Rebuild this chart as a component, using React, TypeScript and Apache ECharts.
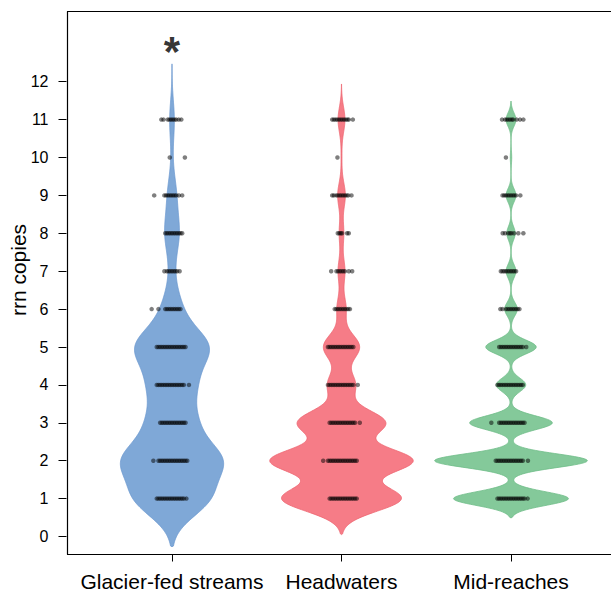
import React, { useEffect, useRef } from "react";
import * as echarts from "echarts";

// ---------- data ----------
const categories = ["Glacier-fed streams", "Headwaters", "Mid-reaches"];
const categoryPositions = [1, 2, 3];
const yTickValues = [0, 1, 2, 3, 4, 5, 6, 7, 8, 9, 10, 11, 12];
const levels = [1, 2, 3, 4, 5, 6, 7, 8, 9, 10, 11]; // rrn copy numbers

// estimated number of genomes at each copy number
const glacierCounts = [132, 175, 79, 77, 133, 32, 8, 26, 16, 2, 9];
const headwatersCounts = [155, 185, 114, 36, 47, 12, 9, 6, 10, 1, 9];
const midReachesCounts = [82, 109, 59, 21, 36, 9, 7, 6, 7, 1, 7];

// kernel bandwidths of each violin (in rrn copies)
const bandwidths = [0.5, 0.33, 0.18];
// lower and upper ends of each violin (in rrn copies)
const violinLow = [-0.27, 0.05, 0.49];
const violinHigh = [12.47, 11.94, 11.49];

// significance marks above each group
const significance = ["*", "", ""];

// horizontal positions of the plotted dots, hundredths of a category, one list per copy number
const glacierJitter = [
  [-9, -8, -7, -6, -5, -4, -3, -2, -1, 0, 1, 2, 3, 4, 5, 6, 7, 8.5],
  [-11, -8, -7, -6, -5, -4, -3, -2, -1, 0, 1, 2, 3, 4, 5, 6, 7, 8, 9],
  [-7, -6, -5, -4, -3, -2, -1, 0, 1, 2, 3, 4, 5, 6, 7, 8],
  [-9, -8, -7, -6, -5, -4, -3, -2, -1, 0, 1, 2, 3, 4, 5, 6, 7, 10],
  [-9, -8, -7, -6, -5, -4, -3, -2, -1, 0, 1, 2, 3, 4, 5, 6, 7, 8],
  [-12, -8, -4, -3, -2, -1, 0, 1, 2, 3, 4, 5],
  [-4.5, -3, -2, -1, 0, 1, 2, 3, 4.5],
  [-4, -3, -2, -1, 0, 1, 2, 3, 4, 5, 6],
  [-10.5, -4.5, -3.5, -2.5, -1.5, -0.5, 0.5, 1.5, 2.5, 4, 6],
  [-1.3, 7.6],
  [-6.3, -5, -2.5, -1.5, -0.5, 0.5, 1.5, 2.5, 4, 5.5],
];
const headwatersJitter = [
  [-7, -6, -5, -4, -3, -2, -1, 0, 1, 2, 3, 4, 5, 6, 7, 8, 9],
  [-10.8, -8, -7, -6, -5, -4, -3, -2, -1, 0, 1, 2, 3, 4, 5, 6, 7, 8, 9],
  [-7, -6, -5, -4, -3, -2, -1, 0, 1, 2, 3, 4, 5, 6, 7, 8, 10.8],
  [-8, -7, -6, -5, -4, -3, -2, -1, 0, 1, 2, 3, 4, 5, 6, 7, 9.6],
  [-8, -7, -6, -5, -4, -3, -2, -1, 0, 1, 2, 3, 4, 5, 6, 7],
  [-4, -3, -2, -1, 0, 1, 2, 3, 4, 5],
  [-6.1, -3, -2, -1, 0, 1, 2, 4.3, 6.3],
  [-2.2, -1.2, -0.4, 0.4, 3.3, 4.3],
  [-5.5, -4.5, -3, -2, -1, 0, 1, 2, 3, 4, 5.9],
  [-2.4],
  [-5.5, -4.5, -3.5, -2.5, -1.5, -0.5, 0.5, 1.5, 2.5, 3.5, 4.3, 6.7],
];
const midReachesJitter = [
  [-8, -7, -6, -5, -4, -3, -2, -1, 0, 1, 2, 3, 4, 5, 6, 7, 8, 9.8],
  [-9, -8, -7, -6, -5, -4, -3, -2, -1, 0, 1, 2, 3, 4, 5, 6, 7, 10],
  [-11.6, -7, -6, -5, -4, -3, -2, -1, 0, 1, 2, 3, 4, 5, 6, 7, 8],
  [-8, -7, -6, -5, -4, -3, -2, -1, 0, 1, 2, 3, 4, 5, 6, 7],
  [-7, -6, -5, -4, -3, -2, -1, 0, 1, 2, 3, 4, 5, 6, 7, 9],
  [-6.3, -5, -3, -2, -1, 0, 1, 2, 3, 4, 5],
  [-6, -5, -4, -3, -2, -1, 0, 1, 2, 3],
  [-4.9, -3.5, -1.6, -0.6, 0.3, 1.8, 4.3, 7.3],
  [-5, -4, -3, -2, -1, 0, 1, 2, 3, 5.5],
  [-3],
  [-5.3, -3.5, -2.5, -1.5, -0.5, 0.5, 1.3, 3.3, 5.3, 7.3],
];

// ---------- styling ----------
const FILLS = ["#7FA8D7", "#F67C87", "#84C99A"];
const EDGES = ["#6B98CF", "#EE6470", "#6FBD88"];
const FONT = "Liberation Sans, Arial, Helvetica, sans-serif";
const WIDTH_K = 7.44e-4; // common violin width scale (count / bandwidth -> category units)

const groupCounts = [glacierCounts, headwatersCounts, midReachesCounts];
const groupJitter = [glacierJitter, headwatersJitter, midReachesJitter];

function halfWidth(counts: number[], h: number, y: number): number {
  let s = 0;
  for (let k = 0; k < levels.length; k++) {
    const d = y - levels[k];
    s += counts[k] * Math.exp(-(d * d) / (2 * h * h));
  }
  return (WIDTH_K * s) / h;
}

function buildOption(): any {
  const series: any[] = [];

  categories.forEach((_, i) => {
    const cx = categoryPositions[i];
    const counts = groupCounts[i];
    const h = bandwidths[i];
    const lo = violinLow[i];
    const hi = violinHigh[i];
    const ys: number[] = [];
    for (let y = lo + 0.02; y < hi - 0.01; y += 0.02) ys.push(y);

    series.push({
      type: "custom",
      z: 2,
      clip: false,
      silent: true,
      data: [[cx, 6]],
      encode: { x: 0, y: 1 },
      renderItem: (_params: any, api: any) => {
        const right = ys.map((y) => api.coord([cx + halfWidth(counts, h, y), y]));
        const left = ys
          .slice()
          .reverse()
          .map((y) => api.coord([cx - halfWidth(counts, h, y), y]));
        const points = [api.coord([cx, lo])]
          .concat(right)
          .concat([api.coord([cx, hi])])
          .concat(left);
        return {
          type: "polygon",
          shape: { points },
          style: { fill: FILLS[i], stroke: EDGES[i], lineWidth: 0.8 },
        };
      },
    });

    const pts: number[][] = [];
    groupJitter[i].forEach((offs, k) => {
      offs.forEach((o) => pts.push([cx + o / 100, levels[k]]));
    });
    series.push({
      type: "scatter",
      z: 3,
      clip: false,
      silent: true,
      symbol: "circle",
      symbolSize: 4.5,
      itemStyle: { color: "#000", opacity: 0.5 },
      data: pts,
    });

    if (significance[i]) {
      series.push({
        type: "scatter",
        z: 4,
        clip: false,
        silent: true,
        symbolSize: 0,
        data: [[cx, 12.8]],
        label: {
          show: true,
          position: "inside",
          formatter: significance[i],
          fontSize: 42,
          fontWeight: "bold",
          color: "#000",
          fontFamily: FONT,
        },
      });
    }
  });

  return {
    animation: false,
    backgroundColor: "#ffffff",
    grid: { left: 87.25, right: 15.25, top: 81.7, bottom: 55.5 },
    xAxis: {
      type: "value",
      min: 0.5,
      max: 3.5,
      position: "bottom",
      offset: 18,
      axisLine: { show: false, onZero: false },
      axisTick: {
        show: true,
        length: 7,
        customValues: categoryPositions,
        lineStyle: { color: "#000", width: 1 },
      },
      axisLabel: {
        fontSize: 21,
        color: "#000",
        margin: 16,
        fontFamily: FONT,
        customValues: categoryPositions,
        formatter: (v: number) => categories[categoryPositions.indexOf(Math.round(v))] ?? "",
      },
      splitLine: { show: false },
    },
    yAxis: {
      type: "value",
      min: 0,
      max: 12,
      interval: 1,
      offset: 20.75,
      axisLine: { show: false, onZero: false },
      axisTick: {
        show: true,
        length: 8,
        customValues: yTickValues,
        lineStyle: { color: "#000", width: 1 },
      },
      axisLabel: {
        fontSize: 16,
        color: "#000",
        margin: 18,
        fontFamily: FONT,
        customValues: yTickValues,
      },
      splitLine: { show: false },
    },
    graphic: [
      {
        type: "line",
        shape: { x1: 67.5, y1: 11.5, x2: 67.5, y2: 554.5 },
        style: { stroke: "#000", lineWidth: 1.2 },
      },
      {
        type: "line",
        shape: { x1: 67, y1: 11.5, x2: 611, y2: 11.5 },
        style: { stroke: "#000", lineWidth: 1.2 },
      },
      {
        type: "line",
        shape: { x1: 67, y1: 554.5, x2: 611, y2: 554.5 },
        style: { stroke: "#000", lineWidth: 1.2 },
      },
      {
        type: "text",
        x: 18,
        y: 270,
        rotation: Math.PI / 2,
        style: {
          text: "rrn copies",
          fontSize: 21,
          fontFamily: FONT,
          fill: "#000",
          textAlign: "center",
          textVerticalAlign: "middle",
        },
      },
    ],
    series,
  };
}

export default function App() {
  const ref = useRef<HTMLDivElement>(null);
  useEffect(() => {
    document.body.style.margin = "0";
    const chart = echarts.init(ref.current as HTMLDivElement, null, { renderer: "svg" });
    chart.setOption(buildOption());
    return () => chart.dispose();
  }, []);
  return <div ref={ref} style={{ width: 611, height: 592 }} />;
}
